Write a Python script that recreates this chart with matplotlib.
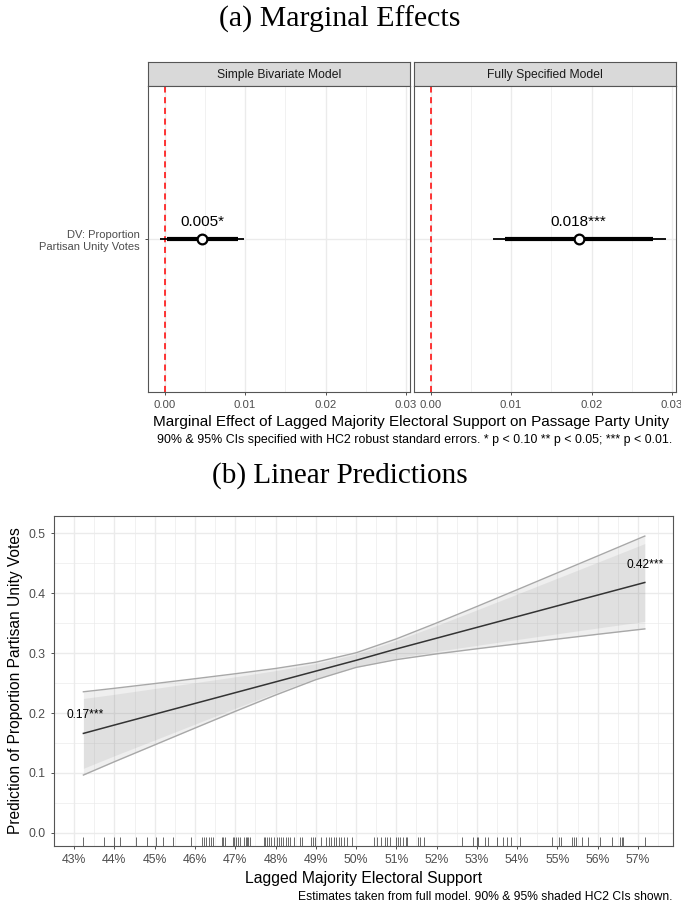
"""Marginal effects (a) and linear predictions (b) figure."""
import matplotlib
matplotlib.use("Agg")
import matplotlib.pyplot as plt
import matplotlib.transforms as mtransforms

plt.rcParams["font.family"] = ["Liberation Sans", "DejaVu Sans"]

# ---- (a) marginal effects ----
models = ["Simple Bivariate Model", "Fully Specified Model"]
dv_label = "DV: Proportion\nPartisan Unity Votes"
est = [0.0047, 0.0184]
ci95_lo = [-0.0006, 0.0077]
ci95_hi = [0.0099, 0.0292]
ci90_lo = [0.0003, 0.0093]
ci90_hi = [0.0091, 0.0276]
est_labels = ["0.005*", "0.018***"]
me_ticks = [0.00, 0.01, 0.02, 0.03]
me_tick_labels = ["0.00", "0.01", "0.02", "0.03"]

# ---- (b) linear predictions ----
x_grid = [43.23, 44, 45, 46, 47, 48, 49, 50, 51, 52, 53, 54, 55, 56, 57.17]
pred = [0.166, 0.180, 0.198, 0.216, 0.234, 0.252, 0.270, 0.288, 0.307,
        0.325, 0.343, 0.361, 0.379, 0.397, 0.418]
upper95 = [0.2355, 0.2413, 0.2492, 0.2573, 0.2656, 0.2744, 0.2849, 0.3006,
           0.3238, 0.3504, 0.3779, 0.4059, 0.4341, 0.4623, 0.4955]
lower95 = [0.0965, 0.1187, 0.1468, 0.1749, 0.2028, 0.2300, 0.2557, 0.2762,
           0.2892, 0.2988, 0.3073, 0.3155, 0.3235, 0.3315, 0.3405]
upper90 = [0.2243, 0.2313, 0.2410, 0.2507, 0.2605, 0.2708, 0.2825, 0.2986,
           0.3210, 0.3462, 0.3722, 0.3986, 0.4252, 0.4518, 0.4830]
lower90 = [0.1077, 0.1287, 0.1550, 0.1815, 0.2079, 0.2336, 0.2581, 0.2782,
           0.2920, 0.3030, 0.3130, 0.3228, 0.3324, 0.3420, 0.3530]
end_labels = ["0.17***", "0.42***"]
rug_x = [43.23, 43.74, 43.99, 44.14, 44.53, 44.82, 45.04, 45.21, 45.45, 45.89,
         46.17, 46.22, 46.28, 46.36, 46.41, 46.45, 46.66, 46.70, 46.74, 46.94,
         46.98, 47.03, 47.08, 47.11, 47.23, 47.27, 47.30, 47.32, 47.36, 47.71,
         47.75, 47.80, 47.85, 47.90, 47.96, 48.03, 48.08, 48.14, 48.19, 48.25,
         48.31, 48.37, 48.45, 48.60, 48.67, 48.87, 48.93, 48.99, 49.12, 49.25,
         49.32, 49.38, 49.45, 49.51, 49.58, 49.63, 49.69, 49.78, 49.90, 50.44,
         50.52, 50.61, 50.72, 50.77, 50.85, 50.98, 51.03, 51.10, 51.17, 51.23,
         51.27, 51.55, 51.60, 51.68, 52.63, 52.90, 53.00, 53.04, 53.21, 53.27,
         53.51, 53.65, 53.75, 53.85, 54.08, 54.86, 55.05, 55.09, 55.36, 55.40,
         55.46, 55.61, 55.77, 56.06, 56.35, 56.56, 56.61, 56.63, 57.17]
pct_ticks = list(range(43, 58))
pct_labels = [f"{p}%" for p in pct_ticks]
pred_ticks = [0.0, 0.1, 0.2, 0.3, 0.4, 0.5]
pred_tick_labels = ["0.0", "0.1", "0.2", "0.3", "0.4", "0.5"]

W, H = 681, 905
fig = plt.figure(figsize=(W / 100, H / 100), dpi=100)

GRID = "#EBEBEB"
BORDER = "#555555"
TICKLAB = "#4D4D4D"


def px_axes(left, top, right, bottom):
    return fig.add_axes([left / W, 1 - bottom / H, (right - left) / W, (bottom - top) / H])


def style(ax, labelsize):
    for s in ax.spines.values():
        s.set_color(BORDER)
        s.set_linewidth(0.8)
    ax.tick_params(colors="#333333", labelcolor=TICKLAB, labelsize=labelsize, length=2.5, width=0.6)
    ax.set_axisbelow(True)


fig.text(340 / W, 1 - 19 / H, "(a) Marginal Effects", ha="center", va="center",
         family="Liberation Serif", fontsize=21.5)

panels = [(148, 410), (414, 676)]
for i, (left, right) in enumerate(panels):
    strip = px_axes(left, 62, right, 86)
    strip.set_facecolor("#D9D9D9")
    strip.set_xticks([])
    strip.set_yticks([])
    for s in strip.spines.values():
        s.set_color(BORDER)
        s.set_linewidth(0.8)
    strip.text(0.5, 0.45, models[i], ha="center", va="center", fontsize=8.7,
               color="#1A1A1A", transform=strip.transAxes)

    ax = px_axes(left, 86, right, 392)
    style(ax, 8.2)
    ax.set_xlim(-0.00206, 0.0305)
    ax.set_ylim(0.4, 1.6)
    ax.set_xticks(me_ticks)
    ax.set_xticklabels(me_tick_labels)
    ax.set_xticks([0.005, 0.015, 0.025], minor=True)
    ax.tick_params(axis="x", which="minor", length=0)
    ax.grid(True, which="major", color=GRID, lw=1.0)
    ax.grid(True, which="minor", axis="x", color=GRID, lw=0.5)
    ax.set_yticks([1])
    if i == 0:
        ax.set_yticklabels([dv_label], fontsize=8.0)
    else:
        ax.set_yticklabels([])
        ax.tick_params(axis="y", length=0)
    ax.axvline(0, color="red", lw=1.1, ls=(0, (4, 3)))
    ax.hlines(1, ci95_lo[i], ci95_hi[i], color="black", lw=1.3)
    ax.hlines(1, ci90_lo[i], ci90_hi[i], color="black", lw=3.0)
    ax.plot(est[i], 1, "o", ms=7, mfc="white", mec="black", mew=1.6)
    ax.annotate(est_labels[i], (est[i], 1), xytext=(0, 12), textcoords="offset points",
                ha="center", va="center", fontsize=11)

fig.text(411 / W, 1 - 422 / H,
         "Marginal Effect of Lagged Majority Electoral Support on Passage Party Unity",
         ha="center", va="center", fontsize=11.0)
fig.text(672 / W, 1 - 440 / H,
         "90% & 95% CIs specified with HC2 robust standard errors. * p < 0.10 ** p < 0.05; *** p < 0.01.",
         ha="right", va="center", fontsize=8.9)

fig.text(340 / W, 1 - 476 / H, "(b) Linear Predictions", ha="center", va="center",
         family="Liberation Serif", fontsize=21)

ax = px_axes(54, 516, 673, 846)
style(ax, 8.8)
ax.set_xlim(42.55, 57.87)
ax.set_ylim(-0.022, 0.529)
ax.set_xticks(pct_ticks)
ax.set_xticklabels(pct_labels)
ax.set_xticks([t + 0.5 for t in pct_ticks[:-1]] + [42.5, 57.5], minor=True)
ax.set_yticks(pred_ticks)
ax.set_yticklabels(pred_tick_labels)
ax.set_yticks([0.05, 0.15, 0.25, 0.35, 0.45], minor=True)
ax.tick_params(which="minor", length=0)
ax.grid(True, which="major", color=GRID, lw=1.0)
ax.grid(True, which="minor", color=GRID, lw=0.5)

ax.fill_between(x_grid, lower95, upper95, color="#808080", alpha=0.12, lw=0)
ax.fill_between(x_grid, lower90, upper90, color="#808080", alpha=0.13, lw=0)
ax.plot(x_grid, upper95, color="#A8A8A8", lw=1.0)
ax.plot(x_grid, lower95, color="#A8A8A8", lw=1.0)
ax.plot(x_grid, pred, color="#333333", lw=1.1)
ax.text(x_grid[0] + 0.05, pred[0] + 0.03, end_labels[0], ha="center", va="center", fontsize=8.6)
ax.text(x_grid[-1], pred[-1] + 0.03, end_labels[1], ha="center", va="center", fontsize=8.6)

trans = mtransforms.blended_transform_factory(ax.transData, ax.transAxes)
ax.vlines(rug_x, 0, 0.027, transform=trans, color="black", lw=0.55, alpha=0.75)

ax.set_ylabel("Prediction of Proportion Partisan Unity Votes", fontsize=11.2, labelpad=4)
ax.set_xlabel("Lagged Majority Electoral Support", fontsize=11.3, labelpad=3)
fig.text(672 / W, 1 - 897 / H,
         "Estimates taken from full model. 90% & 95% shaded HC2 CIs shown.",
         ha="right", va="center", fontsize=8.7)

fig.savefig("out.png", dpi=100)
